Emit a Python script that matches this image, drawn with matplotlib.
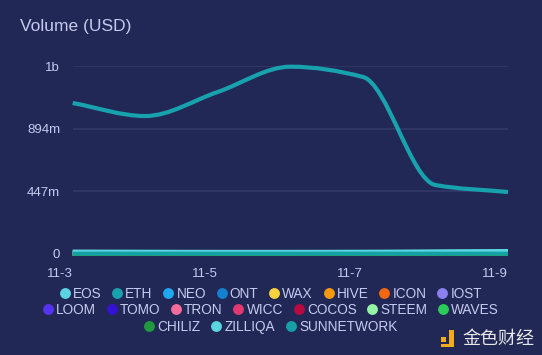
import numpy as np
import matplotlib
matplotlib.use("Agg")
import matplotlib.pyplot as plt
from matplotlib.path import Path
from matplotlib.patches import PathPatch, Rectangle
from matplotlib.lines import Line2D

# ---------------------------------------------------------------------------
# data (daily volume, millions of USD)
# ---------------------------------------------------------------------------
DATES = ["11-3", "11-4", "11-5", "11-6", "11-7", "11-8", "11-9"]
TICK_DATES = ["11-3", "11-5", "11-7", "11-9"]
Y_TICKS = [0, 447, 894, 1341]
Y_LABELS = ["0", "447m", "894m", "1b"]

EOS = [18, 17, 16, 16, 17, 19, 22]
ETH = [1077, 984, 1156, 1336, 1263, 492, 442]
NEO = [6, 6, 5, 5, 6, 7, 8]
ONT = [4, 4, 4, 4, 4, 5, 5]
WAX = [1, 1, 1, 1, 1, 1, 1]
HIVE = [1, 1, 1, 1, 1, 1, 1]
ICON = [2, 2, 2, 2, 2, 2, 2]
IOST = [3, 3, 3, 3, 3, 3, 4]
LOOM = [1, 1, 1, 1, 1, 1, 1]
TOMO = [2, 2, 2, 2, 2, 2, 2]
TRON = [8, 9, 8, 8, 8, 9, 10]
WICC = [1, 1, 1, 1, 1, 1, 1]
COCOS = [1, 1, 1, 1, 1, 1, 1]
STEEM = [1, 1, 1, 1, 1, 1, 1]
WAVES = [2, 2, 2, 2, 2, 2, 2]
CHILIZ = [1, 1, 1, 1, 1, 1, 1]
ZILLIQA = [14, 14, 13, 13, 14, 16, 18]
SUNNETWORK = [3, 3, 3, 3, 3, 3, 3]

NAMES = ["EOS", "ETH", "NEO", "ONT", "WAX", "HIVE", "ICON", "IOST",
         "LOOM", "TOMO", "TRON", "WICC", "COCOS", "STEEM", "WAVES",
         "CHILIZ", "ZILLIQA", "SUNNETWORK"]
SERIES = [EOS, ETH, NEO, ONT, WAX, HIVE, ICON, IOST, LOOM, TOMO, TRON,
          WICC, COCOS, STEEM, WAVES, CHILIZ, ZILLIQA, SUNNETWORK]
COLORS = ["#5bd3e3", "#17a2ae", "#1ea8f2", "#1580cf", "#fdd23f", "#f7990f",
          "#f4680f", "#8c80ef", "#5533f2", "#3312d6", "#f46c9b", "#e3386f",
          "#b80a40", "#95f5a5", "#2bcc58", "#219a3f", "#5ad6e0", "#15a0a8"]

BG = "#222855"
GRID = "#323a69"
TXT = "#c5cbef"

W, H = 542, 355
AX_L, AX_R, AX_T, AX_B = 72.7, 508, 66, 254


def smooth_path(xs, ys):
    """monotone cubic (Fritsch-Carlson) curve as a bezier path."""
    xs = np.asarray(xs, float)
    ys = np.asarray(ys, float)
    h = np.diff(xs)
    d = np.diff(ys) / h
    m = np.zeros_like(ys)
    m[0], m[-1] = d[0], d[-1]
    for i in range(1, len(ys) - 1):
        if d[i - 1] * d[i] > 0:
            m[i] = 2.0 / (1.0 / d[i - 1] + 1.0 / d[i])
    verts = [(xs[0], ys[0])]
    codes = [Path.MOVETO]
    for i in range(len(xs) - 1):
        verts += [(xs[i] + h[i] / 3, ys[i] + m[i] * h[i] / 3),
                  (xs[i + 1] - h[i] / 3, ys[i + 1] - m[i + 1] * h[i] / 3),
                  (xs[i + 1], ys[i + 1])]
        codes += [Path.CURVE4] * 3
    return Path(verts, codes)


fig = plt.figure(figsize=(W / 100, H / 100), dpi=100, facecolor=BG)
ax = fig.add_axes([AX_L / W, 1 - AX_B / H, (AX_R - AX_L) / W, (AX_B - AX_T) / H])
ax.set_facecolor(BG)

x = np.arange(len(DATES))
ax.set_xlim(0, len(DATES) - 1)
ax.set_ylim(0, Y_TICKS[-1])

for name, vals, col in zip(NAMES, SERIES, COLORS):
    lw = 3.0 if name == "ETH" else 2.8
    patch = PathPatch(smooth_path(x, vals), fill=False, edgecolor=col,
                      lw=lw, clip_on=False, capstyle="butt", joinstyle="round",
                      zorder=3)
    ax.add_patch(patch)

ax.set_yticks(Y_TICKS)
ax.set_yticklabels(Y_LABELS)
ax.set_xticks([DATES.index(d) for d in TICK_DATES])
ax.set_xticklabels(TICK_DATES, ha="right")
ax.grid(True, axis="y", color=GRID, lw=1.2)
ax.tick_params(length=0, colors=TXT, labelsize=9.5)
ax.tick_params(axis="y", pad=9)
ax.tick_params(axis="x", pad=10)
for lbl in ax.get_xticklabels() + ax.get_yticklabels():
    lbl.set_fontfamily("Liberation Sans")
for s in ax.spines.values():
    s.set_visible(False)

fig.text(20 / W, 1 - 26 / H, "Volume (USD)", color=TXT, fontsize=12.5,
         family="Liberation Sans", va="center", ha="left")

# legend, three centred rows
rows = [(0, 8, 294), (8, 15, 310), (15, 18, 327)]
for a, b, yc in rows:
    handles = [Line2D([], [], marker="o", ls="", color=COLORS[i], markersize=6.8)
               for i in range(a, b)]
    fig.legend(handles, NAMES[a:b], ncol=b - a, loc="center",
               bbox_to_anchor=(0.5, 1 - yc / H), frameon=False,
               prop={"family": "Liberation Sans", "size": 9.8},
               labelcolor=TXT, handlelength=0.7, handletextpad=0.25,
               columnspacing=0.8, borderpad=0, borderaxespad=0)


# watermark logo
def px_rect(x0, y0, x1, y1, color):
    fig.add_artist(Rectangle((x0 / W, 1 - y1 / H), (x1 - x0) / W, (y1 - y0) / H,
                             transform=fig.transFigure, color=color, lw=0))


LOGO = "#f2ad1f"
px_rect(441, 336.5, 446, 341.5, LOGO)
px_rect(449, 330, 453.5, 347, LOGO)
px_rect(441, 343.5, 453.5, 347, LOGO)
fig.text(462 / W, 1 - 339 / H, "金色财经", color="#e8e8ea", fontsize=13,
         family=["Noto Sans CJK SC", "DejaVu Sans"], va="center", ha="left")

fig.savefig("out.png", dpi=100, facecolor=BG)
